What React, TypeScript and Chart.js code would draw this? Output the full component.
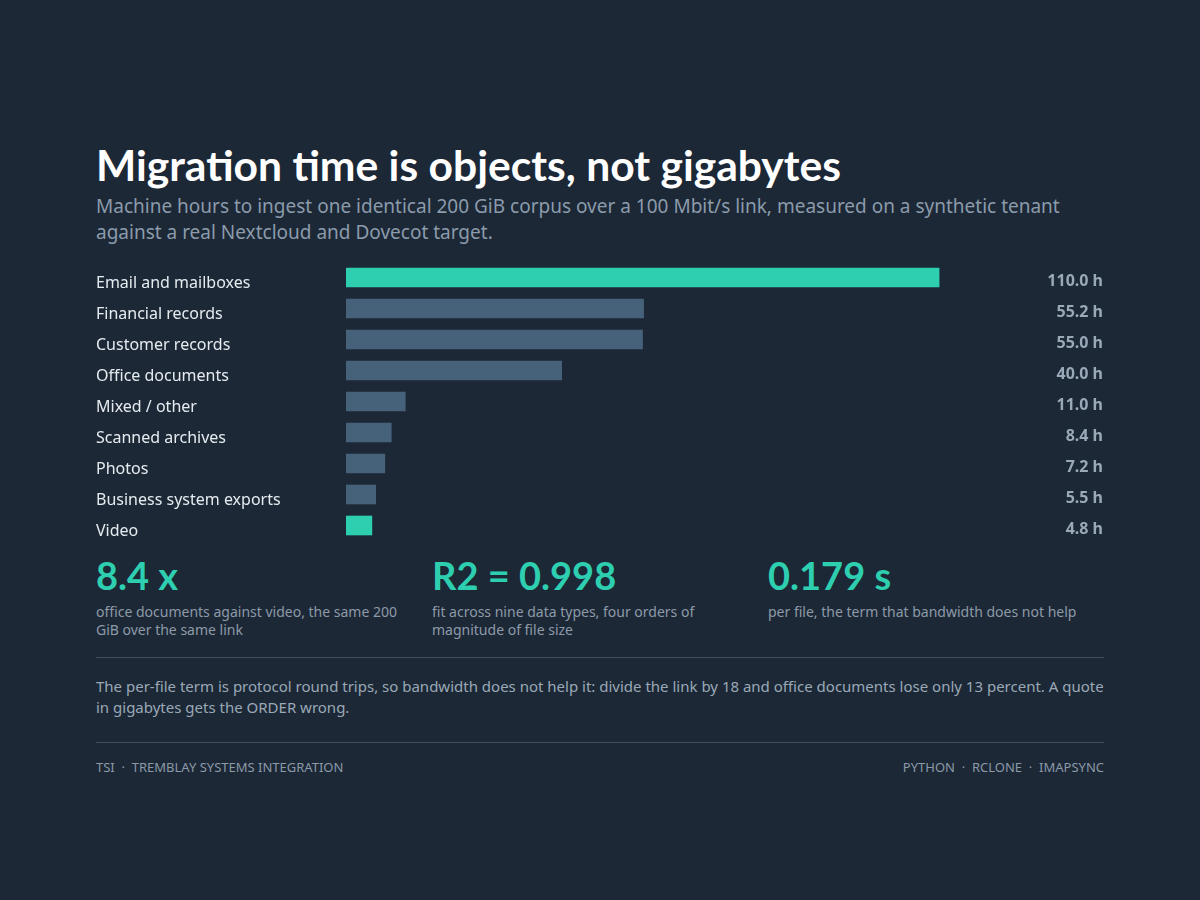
import { Chart, registerables } from "chart.js";
import { useEffect, useRef } from "react";

Chart.register(...registerables);

const categories = [
  "Email and mailboxes",
  "Financial records",
  "Customer records",
  "Office documents",
  "Mixed / other",
  "Scanned archives",
  "Photos",
  "Business system exports",
  "Video",
];
const hours = [110.0, 55.2, 55.0, 40.0, 11.0, 8.4, 7.2, 5.5, 4.8];
const highlighted = ["Email and mailboxes", "Video"];

const stats = [
  { value: "8.4 x", caption: "office documents against video, the same 200 GiB over the same link" },
  { value: "R2 = 0.998", caption: "fit across nine data types, four orders of magnitude of file size" },
  { value: "0.179 s", caption: "per file, the term that bandwidth does not help" },
];

const BG = "#1c2836";
const TEAL = "#2ecfb0";
const SLATE = "#46617a";

const valueLabels = {
  id: "valueLabels",
  afterDatasetsDraw(chart: Chart) {
    const { ctx } = chart;
    const meta = chart.getDatasetMeta(0);
    ctx.save();
    ctx.font = "bold 16px 'Noto Sans'";
    ctx.fillStyle = "#9aa9b8";
    ctx.textAlign = "right";
    ctx.textBaseline = "alphabetic";
    meta.data.forEach((bar, i) => {
      ctx.fillText(`${hours[i].toFixed(1)} h`, chart.width - 1, bar.y + 8.5);
    });
    ctx.restore();
  },
};

function HoursChart() {
  const chartRef = useRef<HTMLCanvasElement | null>(null);

  useEffect(() => {
    const ctx = chartRef.current?.getContext("2d");
    if (!ctx) return;

    const chart = new Chart(ctx, {
      type: "bar",
      data: {
        labels: categories,
        datasets: [
          {
            data: hours,
            backgroundColor: categories.map((c) => (highlighted.includes(c) ? TEAL : SLATE)),
            barThickness: 19,
            borderWidth: 0,
          },
        ],
      },
      options: {
        indexAxis: "y",
        animation: false,
        responsive: true,
        maintainAspectRatio: false,
        layout: { padding: { left: 0, right: 111, top: 0, bottom: 0 } },
        plugins: {
          legend: { display: false },
          tooltip: { enabled: false },
        },
        scales: {
          x: {
            display: false,
            min: 0,
            max: 120,
          },
          y: {
            grid: { display: false, drawTicks: false },
            border: { display: false },
            afterFit: (axis) => {
              axis.width = 250;
              axis.paddingTop = 0;
              axis.paddingBottom = 0;
            },
            ticks: {
              crossAlign: "far",
              labelOffset: 6,
              color: "#e6ebf0",
              font: { family: "'Noto Sans'", size: 16 },
            },
          },
        },
      },
      plugins: [valueLabels],
    });

    return () => chart.destroy();
  }, []);

  return (
    <div style={{ position: "absolute", left: 96, top: 262, width: 1008, height: 279 }}>
      <canvas ref={chartRef} />
    </div>
  );
}

export default function App() {
  const sans = "'Noto Sans', sans-serif";
  return (
    <div
      style={{
        position: "fixed",
        inset: 0,
        width: 1200,
        height: 900,
        background: BG,
        fontFamily: sans,
        overflow: "hidden",
      }}
    >
      <div
        style={{
          position: "absolute",
          left: 96,
          top: 140,
          fontFamily: "Lato, sans-serif",
          fontWeight: 700,
          fontSize: 42.6,
          lineHeight: "50px",
          color: "#ffffff",
          whiteSpace: "nowrap",
        }}
      >
        Migration time is objects, not gigabytes
      </div>
      <div
        style={{
          position: "absolute",
          left: 96,
          top: 193,
          width: 1008,
          fontSize: 19,
          lineHeight: "26px",
          color: "#8b9bab",
        }}
      >
        Machine hours to ingest one identical 200 GiB corpus over a 100 Mbit/s link, measured on a synthetic
        tenant against a real Nextcloud and Dovecot target.
      </div>

      <HoursChart />

      {stats.map((s, i) => (
        <div key={s.value} style={{ position: "absolute", left: 96 + i * 336, top: 552, width: 312 }}>
          <div
            style={{
              fontFamily: "Lato, sans-serif",
              fontWeight: 700,
              fontSize: 38,
              lineHeight: "46px",
              color: TEAL,
              whiteSpace: "nowrap",
            }}
          >
            {s.value}
          </div>
          <div style={{ marginTop: 5, fontSize: 14, lineHeight: "18px", color: "#8d9aa8" }}>{s.caption}</div>
        </div>
      ))}

      <div style={{ position: "absolute", left: 96, top: 657, width: 1008, height: 1, background: "#3f4f60" }} />
      <div
        style={{
          position: "absolute",
          left: 96,
          top: 676,
          width: 1008,
          fontSize: 15,
          lineHeight: "21px",
          color: "#9aa8b6",
        }}
      >
        The per-file term is protocol round trips, so bandwidth does not help it: divide the link by 18 and office
        documents lose only 13 percent. A quote in gigabytes gets the ORDER wrong.
      </div>
      <div style={{ position: "absolute", left: 96, top: 742, width: 1008, height: 1, background: "#3f4f60" }} />

      <div
        style={{
          position: "absolute",
          left: 96,
          top: 758,
          width: 1008,
          display: "flex",
          justifyContent: "space-between",
          fontSize: 13,
          lineHeight: "18px",
          color: "#8b99a8",
          whiteSpace: "pre",
        }}
      >
        <span>TSI  ·  TREMBLAY SYSTEMS INTEGRATION</span>
        <span>PYTHON  ·  RCLONE  ·  IMAPSYNC</span>
      </div>
    </div>
  );
}
